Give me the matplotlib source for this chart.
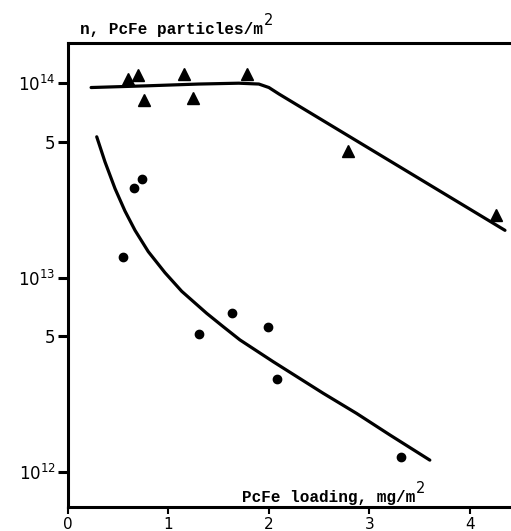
import numpy as np
import matplotlib
matplotlib.use("Agg")
import matplotlib.pyplot as plt

# triangles (upper series)
tri_x = [0.60, 0.70, 0.76, 1.15, 1.24, 1.78, 2.79, 4.26]
tri_n = [1.05e14, 1.10e14, 8.2e13, 1.11e14, 8.4e13, 1.11e14, 4.5e13, 2.1e13]

# circles (lower series)
dot_x = [0.55, 0.66, 0.74, 1.30, 1.63, 1.99, 2.08, 3.31]
dot_n = [1.27e13, 2.9e13, 3.2e13, 5.1e12, 6.6e12, 5.6e12, 3.0e12, 1.2e12]

# hand-drawn fit lines
fit_up_x = [0.23, 0.8, 1.3, 1.70, 1.90, 2.00, 2.10, 4.35]
fit_up_n = [9.5e13, 9.7e13, 9.9e13, 1.0e14, 9.9e13, 9.5e13, 8.8e13, 1.75e13]

fit_lo_x = [0.286, 0.368, 0.468, 0.567, 0.667, 0.799, 0.965, 1.132,
            1.380, 1.545, 1.711, 2.043, 2.540, 2.873, 3.204, 3.602]
fit_lo_n = [5.30e13, 3.94e13, 2.87e13, 2.20e13, 1.75e13, 1.36e13, 1.06e13, 8.50e12,
            6.55e12, 5.59e12, 4.78e12, 3.69e12, 2.54e12, 2.00e12, 1.55e12, 1.15e12]

yticks = [1e12, 5e12, 1e13, 5e13, 1e14]
ytick_labels = [r"$10^{12}$", "5", r"$10^{13}$", "5", r"$10^{14}$"]
xticks = [0, 1, 2, 3, 4]

W, H = 511, 531
fig = plt.figure(figsize=(W / 100, H / 100), dpi=100)
ax = fig.add_axes([68 / W, 24 / H, 443 / W, 464 / H])

ax.plot(fit_up_x, fit_up_n, color="black", lw=2.3, solid_capstyle="round",
        solid_joinstyle="round")
ax.plot(fit_lo_x, fit_lo_n, color="black", lw=2.3, solid_capstyle="round",
        solid_joinstyle="round")
ax.plot(tri_x, tri_n, "^", color="black", ms=8)
ax.plot(dot_x, dot_n, "o", color="black", ms=6)

ax.set_yscale("log")
ax.set_xlim(0, 4.41)
ax.set_ylim(6.6e11, 1.61e14)
ax.minorticks_off()
ax.set_yticks(yticks)
ax.set_yticklabels(ytick_labels, fontsize=12)
ax.set_xticks(xticks)
ax.set_xticklabels([str(v) for v in xticks], fontsize=11)

for s in ["left", "bottom", "top"]:
    ax.spines[s].set_linewidth(2.2)
ax.spines["right"].set_visible(False)
ax.tick_params(axis="y", direction="out", length=7, width=2.2, pad=2)
ax.tick_params(axis="x", direction="out", length=5, width=1.5, pad=2)

mono = "Liberation Mono"


def label_with_sq(x, y, s):
    t = fig.text(x / W, 1 - y / H, s, family=mono, fontsize=11.5,
                 fontweight="bold", ha="left", va="baseline")
    fig.canvas.draw()
    bb = t.get_window_extent()
    fig.text(bb.x1 / W + 1 / W, 1 - (y - 9) / H, "2", fontsize=10.5,
             ha="left", va="baseline")


label_with_sq(80, 34, "n, PcFe particles/m")
label_with_sq(242, 502, "PcFe loading, mg/m")

fig.savefig("out.png", dpi=100)
